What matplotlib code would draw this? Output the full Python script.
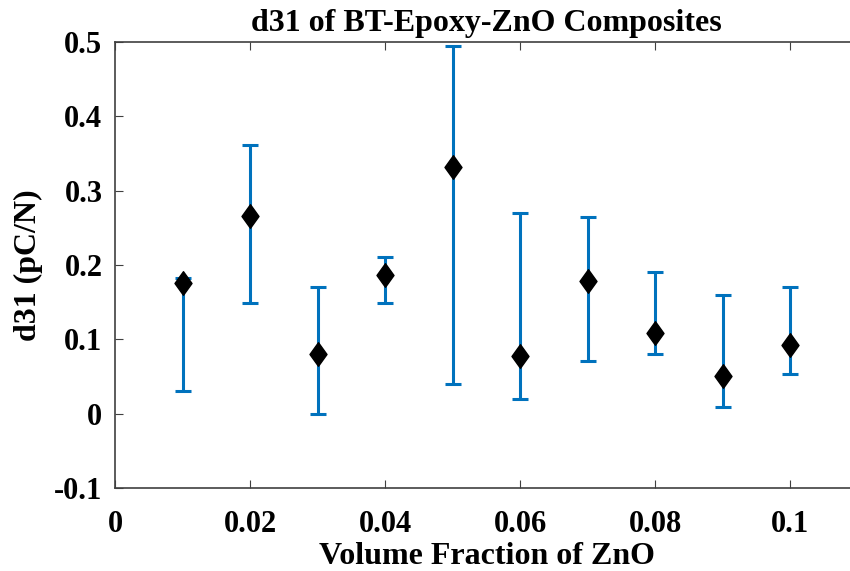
import matplotlib
matplotlib.use("Agg")
import matplotlib.pyplot as plt
from matplotlib.path import Path

# volume fraction of ZnO and measured d31 (pC/N)
vol_frac = [0.01, 0.02, 0.03, 0.04, 0.05, 0.06, 0.07, 0.08, 0.09, 0.10]
d31_mean = [0.176, 0.266, 0.080, 0.186, 0.332, 0.077, 0.178, 0.108, 0.050, 0.092]
d31_upper = [0.182, 0.362, 0.171, 0.211, 0.495, 0.270, 0.265, 0.190, 0.160, 0.170]
d31_lower = [0.030, 0.149, 0.000, 0.149, 0.040, 0.020, 0.071, 0.080, 0.009, 0.054]

err_low = [m - lo for m, lo in zip(d31_mean, d31_lower)]
err_high = [hi - m for m, hi in zip(d31_mean, d31_upper)]

plt.rcParams['font.family'] = 'Liberation Serif'
plt.rcParams['font.weight'] = 'bold'

# MATLAB-like diamond (taller than wide)
diamond = Path([(0, 1), (0.72, 0), (0, -1), (-0.72, 0), (0, 1)],
               [Path.MOVETO, Path.LINETO, Path.LINETO, Path.LINETO, Path.CLOSEPOLY])

fig = plt.figure(figsize=(8.5, 5.71), dpi=100)
ax = fig.add_axes([115 / 850, 1 - 488 / 571, 743 / 850, 446 / 571])

ax.errorbar(vol_frac, d31_mean, yerr=[err_low, err_high], fmt='none',
            ecolor='#0072BD', elinewidth=2.2, capsize=6, capthick=2.2, zorder=2)
ax.plot(vol_frac, d31_mean, linestyle='none', marker=diamond, markersize=17,
        color='black', zorder=3)

ax.set_xlim(0, 0.11)
ax.set_ylim(-0.1, 0.5)
ax.set_xticks([0, 0.02, 0.04, 0.06, 0.08, 0.1])
ax.set_xticklabels(['0', '0.02', '0.04', '0.06', '0.08', '0.1'])
ax.set_yticks([-0.1, 0, 0.1, 0.2, 0.3, 0.4, 0.5])
ax.set_yticklabels(['-0.1', '0', '0.1', '0.2', '0.3', '0.4', '0.5'])

ax.tick_params(direction='in', length=6, width=0.8, color='#404040',
               labelsize=22, top=True, right=True)
ax.tick_params(axis='x', pad=16)
ax.tick_params(axis='y', pad=9)
for s in ax.spines.values():
    s.set_color('#404040')
    s.set_linewidth(1.2)

ax.set_title('d31 of BT-Epoxy-ZnO Composites', fontsize=23, fontweight='bold', pad=8)
ax.set_xlabel('Volume Fraction of ZnO', fontsize=23, fontweight='bold', labelpad=2)
ax.set_ylabel('d31 (pC/N)', fontsize=23, fontweight='bold', labelpad=8)

fig.savefig('out.png', dpi=100)
